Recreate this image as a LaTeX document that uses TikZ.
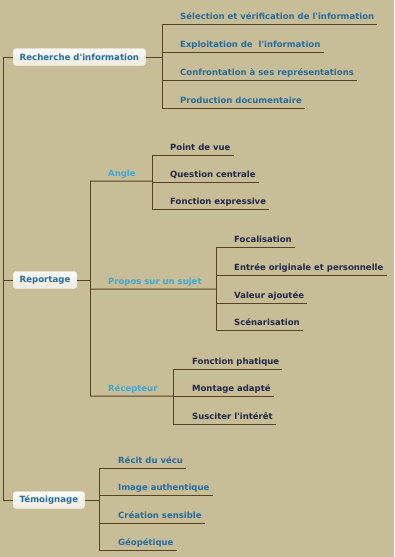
\documentclass[tikz,border=0pt]{standalone}
\usepackage{fontspec}
\setmainfont{DejaVu Sans}
\usetikzlibrary{calc}
\definecolor{fond}{RGB}{199,189,150}
\definecolor{trait}{RGB}{84,68,36}
\definecolor{bleu}{RGB}{38,108,160}
\definecolor{ciel}{RGB}{60,170,212}
\definecolor{nuit}{RGB}{32,38,68}
\tikzset{
  branch/.style={draw=trait, line width=1pt},
  topic/.style={anchor=west, rounded corners=3pt, top color=white!96!fond, bottom color=white!72!fond,
    draw=white!80!fond, text=bleu, inner xsep=6.5pt, minimum height=17pt,
    font=\bfseries\fontsize{8.6}{10}\selectfont},
  leaf/.style={anchor=base west, inner xsep=3pt, inner ysep=5pt, text depth=0pt,
    font=\bfseries\fontsize{8.5}{10}\selectfont},
  sub/.style={leaf, text=ciel},
}
\begin{document}
\begin{tikzpicture}[x=1pt,y=-1pt]
\fill[fond] (0,0) rectangle (394,557);
\useasboundingbox (0,0) rectangle (394,557);

% main topics
\node[topic] (rech) at (13,57) {Recherche d\textquotesingle information};
\node[topic] (repo) at (13,280) {Reportage};
\node[topic] (temo) at (13,500) {Témoignage};
\coordinate (tronc) at (3,57);
\draw[branch] (tronc) -- (tronc |- temo.west);
\draw[branch] (tronc) -- (rech.west);
\draw[branch] (tronc |- repo.west) -- (repo.west);
\draw[branch] (tronc |- temo.west) -- (temo.west);

% Recherche d'information
\coordinate (rech-h) at (162,57);
\node[leaf, text=bleu] (sel) at (177,19) {Sélection et vérification de l\textquotesingle information};
\node[leaf, text=bleu] (expl) at (177,47) {Exploitation de \ l\textquotesingle information};
\node[leaf, text=bleu] (conf) at (177,75) {Confrontation à ses représentations};
\node[leaf, text=bleu] (prod) at (177,103) {Production documentaire};
\draw[branch] (rech.east) -- (rech-h);
\draw[branch] (sel.south -| rech-h) -- (prod.south -| rech-h);
\foreach \n in {sel,expl,conf,prod}
  \draw[branch] (\n.south -| rech-h) -- (\n.south east);

% Reportage
\coordinate (repo-h) at (90,280);
\coordinate (angle-h) at (152,181);
\coordinate (propos-h) at (216,289);
\coordinate (recep-h) at (173,396);
\node[sub] (angle) at (105,176) {Angle};
\node[sub] (propos) at (105,284) {Propos sur un sujet};
\node[sub] (recep) at (105,391) {Récepteur};
\draw[branch] (repo.east) -- (repo-h);
\draw[branch] (angle.south -| repo-h) -- (recep.south -| repo-h);
\draw[branch] (angle.south -| repo-h) -- (angle-h);
\draw[branch] (propos.south -| repo-h) -- (propos-h);
\draw[branch] (recep.south -| repo-h) -- (recep-h);

\node[leaf, text=nuit] (vue) at (167,150) {Point de vue};
\node[leaf, text=nuit] (quest) at (167,177) {Question centrale};
\node[leaf, text=nuit] (expr) at (167,204) {Fonction expressive};
\draw[branch] (vue.south -| angle-h) -- (expr.south -| angle-h);
\foreach \n in {vue,quest,expr}
  \draw[branch] (\n.south -| angle-h) -- (\n.south east);

\node[leaf, text=nuit] (foca) at (231,242) {Focalisation};
\node[leaf, text=nuit] (entree) at (231,270) {Entrée originale et personnelle};
\node[leaf, text=nuit] (valeur) at (231,298) {Valeur ajoutée};
\node[leaf, text=nuit] (scena) at (231,325) {Scénarisation};
\draw[branch] (foca.south -| propos-h) -- (scena.south -| propos-h);
\foreach \n in {foca,entree,valeur,scena}
  \draw[branch] (\n.south -| propos-h) -- (\n.south east);

\node[leaf, text=nuit] (phat) at (189,364) {Fonction phatique};
\node[leaf, text=nuit] (mont) at (189,391) {Montage adapté};
\node[leaf, text=nuit] (susc) at (189,419) {Susciter l\textquotesingle intérêt};
\draw[branch] (phat.south -| recep-h) -- (susc.south -| recep-h);
\foreach \n in {phat,mont,susc}
  \draw[branch] (\n.south -| recep-h) -- (\n.south east);

% Témoignage
\coordinate (temo-h) at (99,500);
\node[leaf, text=bleu] (recit) at (115,463) {Récit du vécu};
\node[leaf, text=bleu] (image) at (115,490) {Image authentique};
\node[leaf, text=bleu] (creat) at (115,518) {Création sensible};
\node[leaf, text=bleu] (geop) at (115,545) {Géopétique};
\draw[branch] (temo.east) -- (temo-h);
\draw[branch] (recit.south -| temo-h) -- (geop.south -| temo-h);
\foreach \n in {recit,image,creat,geop}
  \draw[branch] (\n.south -| temo-h) -- (\n.south east);
\end{tikzpicture}
\end{document}
